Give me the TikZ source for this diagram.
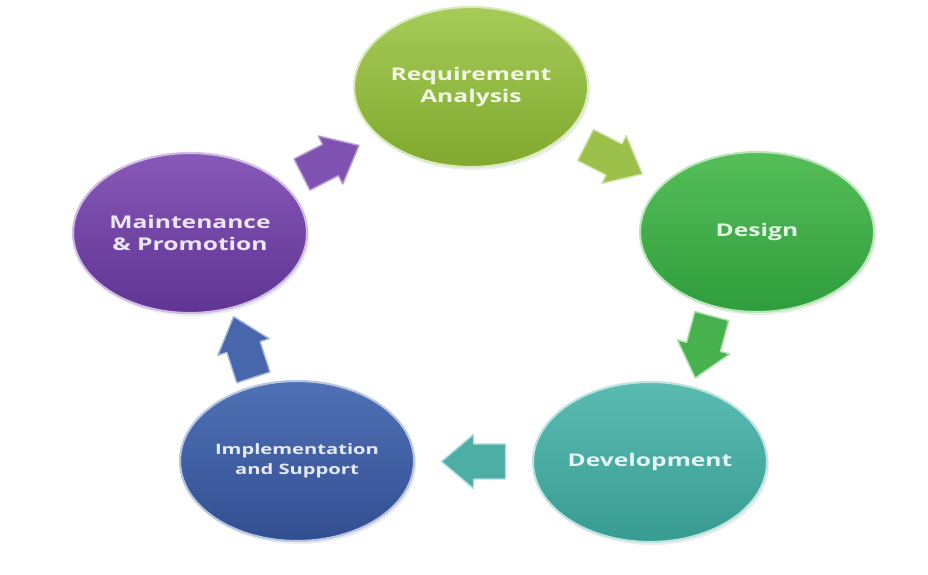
\documentclass[tikz,border=0pt]{standalone}
\usepackage{fontspec}
\setsansfont{Open Sans}
\usepackage{graphicx}
\usepackage{xcolor}
\usetikzlibrary{arrows,positioning,calc,shapes.geometric,shadows}

\definecolor{reqtop}{HTML}{A6CB58}
\definecolor{reqbot}{HTML}{80A92E}
\definecolor{destop}{HTML}{55BE58}
\definecolor{desbot}{HTML}{2F9D3D}
\definecolor{devtop}{HTML}{5ABBB2}
\definecolor{devbot}{HTML}{389B91}
\definecolor{imptop}{HTML}{5071B6}
\definecolor{impbot}{HTML}{324E90}
\definecolor{maitop}{HTML}{8758B8}
\definecolor{maibot}{HTML}{5F3493}

\newcommand{\wide}[1]{\scalebox{1.4}[1]{#1}}

\tikzset{
  blockarrow/.pic={
    \path [pic actions] (-0.64,-0.35) -- (0,-0.35) -- (0,-0.54) -- (0.64,0)
      -- (0,0.54) -- (0,0.35) -- (-0.64,0.35) -- cycle;
  }
}

\begin{document}
\begin{tikzpicture}[
  stage/.style={ellipse, minimum width=4.68cm, minimum height=3.2cm, inner sep=0pt,
    align=center, font=\sffamily\bfseries\fontsize{10}{12.5}\selectfont, line width=1.2pt,
    drop shadow={opacity=0.15, shadow xshift=0.04cm, shadow yshift=-0.06cm}},
  flow/.style={line width=0.8pt, line join=round}
]
\useasboundingbox (0,0) rectangle (18.56,11.5);

\node [stage, top color=reqtop, bottom color=reqbot, draw=reqtop!40!white, text=white!85!reqtop] (req) at (9.42,9.76) {\wide{Requirement}\\\wide{Analysis}};
\node [stage, top color=destop, bottom color=desbot, draw=destop!40!white, text=white!85!destop] (design) at (15.14,6.86) {\wide{Design}};
\node [stage, top color=devtop, bottom color=devbot, draw=devtop!40!white, text=white!85!devtop] (dev) at (13.0,2.26) {\wide{Development}};
\node [stage, top color=imptop, bottom color=impbot, draw=imptop!40!white, text=white!85!imptop,
  font=\sffamily\bfseries\fontsize{8.2}{11.2}\selectfont] (impl) at (5.94,2.28) {\wide{Implementation}\\\wide{and Support}};
\node [stage, top color=maitop, bottom color=maibot, draw=maitop!40!white, text=white!85!maitop] (maint) at (3.8,6.84) {\wide{Maintenance}\\\wide{\& Promotion}};

\pic [flow, rotate=27, fill=maitop!80!maibot, draw=maitop!60!white] (a1) at ($(maint)!0.5!(req)$) {blockarrow};
\pic [flow, rotate=-27, fill=reqtop!70!reqbot, draw=reqtop!50!white] (a2) at ($(req)!0.5!(design)$) {blockarrow};
\pic [flow, rotate=-105, fill=destop!60!desbot, draw=destop!50!white] (a3) at ($(design)!0.5!(dev)$) {blockarrow};
\pic [flow, rotate=180, fill=devtop!60!devbot, draw=devtop!50!white] (a4) at ($(dev)!0.5!(impl)$) {blockarrow};
\pic [flow, rotate=108, fill=imptop!70!impbot, draw=imptop!50!white] (a5) at ($(impl)!0.5!(maint)$) {blockarrow};
\end{tikzpicture}
\end{document}
